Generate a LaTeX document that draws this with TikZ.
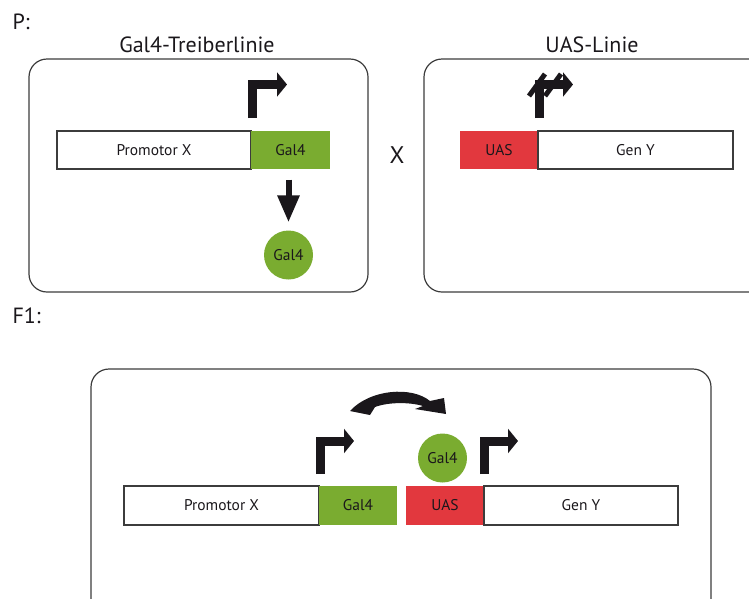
\documentclass[tikz,border=0pt]{standalone}
\usepackage{fontspec}
\setmainfont{PT Sans}
\usetikzlibrary{arrows.meta}
\definecolor{gruen}{RGB}{122,172,48}
\definecolor{rot}{RGB}{226,56,62}
\definecolor{rahmen}{RGB}{60,60,60}
\definecolor{pfeil}{RGB}{26,23,27}

\tikzset{
  gen/.style={draw=rahmen, line width=1.2pt, minimum height=38pt, inner sep=0pt, text=pfeil, font=\fontsize{15.5}{18}\selectfont},
  gal/.style={gen, draw=none, fill=gruen},
  uas/.style={gen, draw=none, fill=rot},
  protein/.style={circle, fill=gruen, minimum size=49pt, inner sep=0pt, text=pfeil, font=\fontsize{15.5}{18}\selectfont},
  panel/.style={draw=rahmen, line width=1.2pt, rounded corners=18pt},
  titel/.style={text=pfeil, font=\fontsize{22}{26}\selectfont},
  promotor/.style={draw=pfeil, line width=9pt, line join=miter, -{Triangle[width=24pt,length=10pt]}}
}

\begin{document}
\begin{tikzpicture}[x=1pt,y=-1pt]
\useasboundingbox (0,0) rectangle (749,598);
\clip (0,0) rectangle (749,598);

% Elterngeneration
\node[titel, anchor=west] (p) at (9,22) {P:};
\node[titel] (treiber) at (197,45) {Gal4-Treiberlinie};
\node[titel] (uaslinie) at (592,45) {UAS-Linie};

\draw[panel] (29,59) rectangle (368,292);
\draw[panel] (424,59) rectangle (790,292);

\node[gen, minimum width=194pt] (promA) at (154,150) {Promotor X};
\node[gal, minimum width=79pt] (gal4A) at (290.5,150) {Gal4};
\node[protein] (protA) at (288.5,255) {Gal4};
\draw[draw=pfeil, line width=6pt, -{Triangle[width=21pt,length=27pt]}, shorten <=10pt, shorten >=8pt]
  (protA |- gal4A.south) -- (protA);
\draw[promotor] (252.5,118) -- (252.5,84.5) -- (287,84.5);

\node[titel, font=\fontsize{24}{28}\selectfont] (kreuz) at (397,155) {X};

\node[uas, minimum width=78pt] (uasA) at (499,150) {UAS};
\node[gen, minimum width=195pt] (genA) at (635.5,150) {Gen Y};
\draw[promotor] (539.5,118) -- (539.5,84.5) -- (573,84.5);
\draw[draw=pfeil, line width=5pt] (529,96) -- (545,74) (545,96) -- (561,74);

% F1
\node[titel, anchor=west] (f1) at (9,316) {F1:};
\draw[panel] (91,369) rectangle (711,620);

\node[gen, minimum width=195pt, minimum height=39pt] (promB) at (221.5,505.5) {Promotor X};
\node[gal, minimum width=78pt, minimum height=39pt] (gal4B) at (358,505.5) {Gal4};
\node[uas, minimum width=78pt, minimum height=39pt] (uasB) at (445,505.5) {UAS};
\node[gen, minimum width=194pt, minimum height=39pt] (genB) at (581,505.5) {Gen Y};
\node[protein] (protB) at (442.5,458) {Gal4};

\draw[promotor] (320.5,474) -- (320.5,441) -- (354,441);
\draw[promotor] (484.5,474) -- (484.5,441) -- (518,441);

\fill[pfeil] (350,411) .. controls (370,389) and (412,386) .. (430,401) -- (444,398) -- (446,414)
  -- (415,409) -- (423,406) .. controls (410,402) and (388,402) .. (375,407) -- (370,415) -- cycle;

\end{tikzpicture}
\end{document}
